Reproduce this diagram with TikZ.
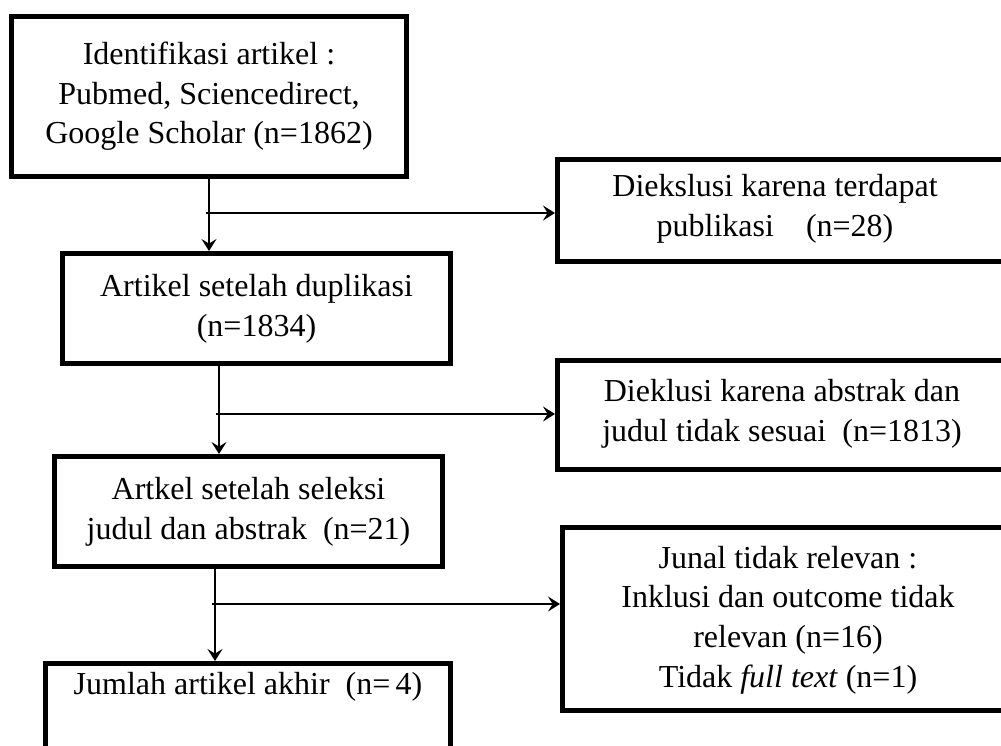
\documentclass[tikz,border=0pt]{standalone}
\usepackage{fontspec}
\setmainfont{Liberation Serif}
\usetikzlibrary{arrows.meta}
\begin{document}
\begin{tikzpicture}[x=0.5pt,y=-0.5pt,
  box/.style={draw=black,line width=2.5pt,rectangle,align=center,inner sep=0pt,
    font=\fontsize{16}{19.8}\selectfont},
  txt/.style={inner sep=0pt,align=center,font=\fontsize{16}{19.8}\selectfont},
  conn/.style={draw=black,line width=1.2pt,-{Stealth[length=6pt,width=7.5pt,inset=2.3pt]}}
]
\useasboundingbox (0,0) rectangle (1001,745);
\clip (0,0) rectangle (1001,745);

% left column
\node[box,minimum width=197.5pt,minimum height=80pt] (b1) at (209,96.5)
  {Identifikasi artikel :\\Pubmed, Sciencedirect,\\Google Scholar (n=1862)};
\node[box,minimum width=194pt,minimum height=55pt] (b2) at (256.5,308.5)
  {Artikel setelah duplikasi\\(n=1834)};
\node[box,minimum width=194pt,minimum height=55pt] (b3) at (248.5,511.5)
  {Artkel setelah seleksi\\judul dan abstrak\ \ (n=21)};
\node[box,minimum width=202.5pt,minimum height=63.25pt] (b4) at (248,726.75) {};
\node[txt,anchor=base] (b4t) at (248,694) {Jumlah artikel akhir\ \ (n=\,4)};

% right column (boxes run past the right edge)
\node[box,minimum width=230pt,minimum height=50.75pt] (r1) at (787.5,210.25) {};
\node[txt] (r1t) at (775,209) {Diekslusi karena terdapat\\publikasi\ \ \ \ (n=28)};
\node[box,minimum width=230pt,minimum height=54.5pt] (r2) at (787.5,415) {};
\node[txt] (r2t) at (782,414) {Dieklusi karena abstrak dan\\judul tidak sesuai\ \ (n=1813)};
\node[box,minimum width=230pt,minimum height=91.5pt] (r3) at (792.5,619) {};
\node[txt] (r3t) at (788,620)
  {Junal tidak relevan :\\Inklusi dan outcome tidak\\relevan (n=16)\\Tidak \textit{full text} (n=1)};

% vertical connectors
\coordinate (t1) at (b1.south);
\draw[conn] (t1) -- (t1 |- b2.north);
\coordinate (t2) at ([xshift=-18.75pt]b2.south);
\draw[conn] (t2) -- (t2 |- b3.north);
\coordinate (t3) at ([xshift=-16.75pt]b3.south);
\draw[conn] (t3) -- (t3 |- b4.north);

% side branches
\coordinate (j1) at (206,213);
\draw[conn] (j1) -- (j1 -| r1.west);
\coordinate (j2) at (216,414);
\draw[conn] (j2) -- (j2 -| r2.west);
\coordinate (j3) at (212,604);
\draw[conn] (j3) -- (j3 -| r3.west);
\end{tikzpicture}
\end{document}
